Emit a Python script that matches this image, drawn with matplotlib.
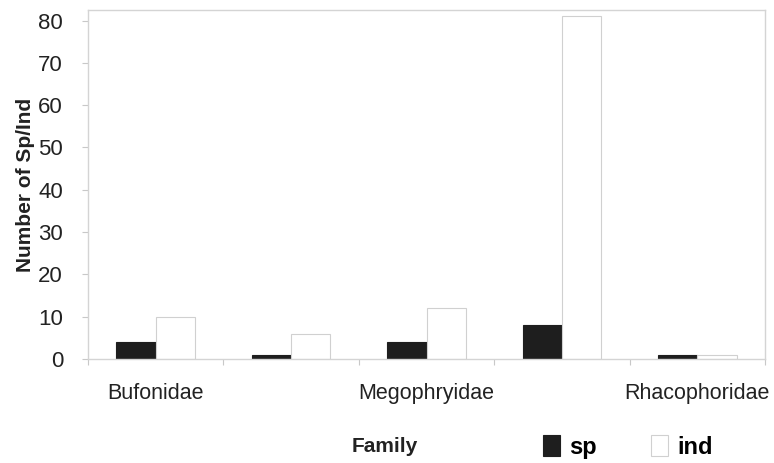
import matplotlib.pyplot as plt
import numpy as np

plt.rcParams['font.family'] = ['Liberation Sans', 'DejaVu Sans']

families = ['Bufonidae', 'Dicroglossidae', 'Megophryidae', 'Ranidae', 'Rhacophoridae']
shown_labels = ['Bufonidae', '', 'Megophryidae', '', 'Rhacophoridae']
sp = [4, 1, 4, 8, 1]
ind = [10, 6, 12, 81, 1]

fig = plt.figure(figsize=(7.74, 4.63), dpi=100)
ax = fig.add_axes([88 / 774, 1 - 359 / 463, (765 - 88) / 774, (359 - 10) / 463])

x = np.arange(len(families))
w = 0.29
ax.bar(x - w / 2, sp, w, color='#1e1e1e', edgecolor='#1e1e1e', linewidth=0.8, label='sp')
ax.bar(x + w / 2, ind, w, color='white', edgecolor='#d0d0d0', linewidth=0.8, label='ind')

ax.set_xlim(-0.5, len(families) - 0.5)
ax.set_ylim(0, 82.5)
ax.set_yticks(range(0, 81, 10))
ax.tick_params(axis='y', labelsize=16, colors='#222222', length=4, color='#c8c8c8', pad=14)

# category boundary ticks, labels in between
ax.set_xticks(np.arange(-0.5, len(families), 1.0))
ax.set_xticklabels([])
ax.set_xticks(x, minor=True)
ax.set_xticklabels(shown_labels, minor=True)
ax.tick_params(axis='x', which='major', length=4, color='#c8c8c8', direction='out')
ax.tick_params(axis='x', which='minor', length=0, labelsize=15.5, colors='#222222', pad=17)

for side in ['left', 'bottom', 'top', 'right']:
    ax.spines[side].set_color('#d4d4d4')
    ax.spines[side].set_linewidth(1.0)

ax.set_ylabel('Number of Sp/Ind', fontsize=15, fontweight='bold', color='#222222', labelpad=2)
fig.text(385 / 774, 1 - 447 / 463, 'Family', fontsize=15, fontweight='bold', color='#222222',
         ha='center', va='center')

leg = fig.legend(loc='center', bbox_to_anchor=(628 / 774, 1 - 447 / 463), ncol=2, frameon=False,
                 handlelength=0.7, handleheight=1.0, columnspacing=2.3,
                 handletextpad=0.4, prop={'weight': 'bold', 'size': 17})

fig.savefig('out.png', dpi=100)
